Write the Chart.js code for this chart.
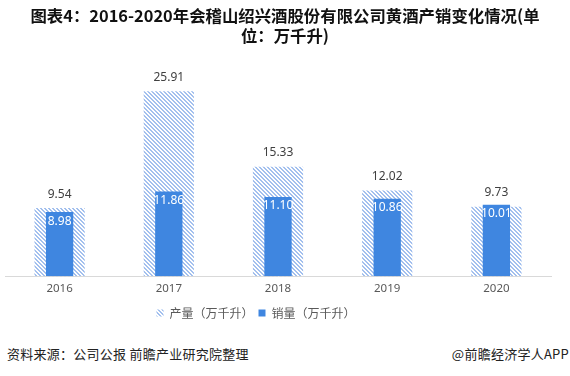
<!DOCTYPE html>
<html>
<head>
<meta charset="utf-8">
<script src="https://cdn.jsdelivr.net/npm/chart.js@4.4.0/dist/chart.umd.min.js"></script>
<style>
  body { margin: 0; background: #fff; font-family: "Noto Sans CJK SC", "Noto Sans", sans-serif; }
  #wrap { position: relative; width: 570px; height: 376px; overflow: hidden; }
  #title { position: absolute; left: 0; top: 6px; width: 570px; text-align: center;
           font-weight: bold; font-size: 16.4px; line-height: 19.5px; color: #111; }
  #chartBox { position: absolute; left: 0; top: 0; width: 570px; height: 329px; }
  #source { position: absolute; left: 7px; top: 344px; font-size: 13px; letter-spacing: 0.25px; color: #222; }
  #brand { position: absolute; right: 1px; top: 344px; font-size: 13px; letter-spacing: 0.25px; color: #222; }
</style>
</head>
<body>
<div id="wrap">
  <div id="chartBox"><canvas id="chart-bars" width="570" height="329"></canvas></div>
  <div id="title">图表4：2016-2020年会稽山绍兴酒股份有限公司黄酒产销变化情况(单<br>位：万千升)</div>
  <div id="source">资料来源：公司公报 前瞻产业研究院整理</div>
  <div id="brand">@前瞻经济学人APP</div>
</div>
<script>
// datos
const years = ["2016", "2017", "2018", "2019", "2020"];
const produccion = [9.54, 25.91, 15.33, 12.02, 9.73];
const ventas = [8.98, 11.86, 11.10, 10.86, 10.01];

// patrón de rayas diagonales para el producto
function makeStripes() {
  const c = document.createElement("canvas");
  c.width = 4; c.height = 4;
  const g = c.getContext("2d");
  g.fillStyle = "#ffffff";
  g.fillRect(0, 0, 4, 4);
  g.fillStyle = "#a3c0ee";
  for (let y = 0; y < 4; y++) {
    for (let x = 0; x < 4; x++) {
      const d = ((x - y) % 4 + 4) % 4;
      if (d === 0 || d === 1) g.fillRect(x, y, 1, 1);
    }
  }
  return document.getElementById("chart-bars").getContext("2d").createPattern(c, "repeat");
}

const stripes = makeStripes();

// etiquetas de valores
const valueLabels = {
  id: "valueLabels",
  afterDatasetsDraw(chart) {
    const ctx = chart.ctx;
    ctx.save();
    ctx.font = "12px 'Noto Sans', 'DejaVu Sans', sans-serif";
    ctx.textAlign = "center";
    chart.getDatasetMeta(0).data.forEach((bar, i) => {
      ctx.fillStyle = "#404040";
      ctx.textBaseline = "bottom";
      ctx.fillText(produccion[i].toFixed(2), bar.x, bar.y - 8);
    });
    chart.getDatasetMeta(1).data.forEach((bar, i) => {
      ctx.fillStyle = "#ffffff";
      ctx.textBaseline = "top";
      ctx.fillText(ventas[i].toFixed(2), bar.x, bar.y + 3);
    });
    ctx.restore();
  }
};

// leyenda un poco a la izquierda, como en el original
const legendShift = {
  id: "legendShift",
  afterLayout(chart) {
    if (chart.legend) {
      chart.legend.left -= 22;
      chart.legend.right -= 22;
    }
  }
};

const ctx = document.getElementById("chart-bars").getContext("2d");
let myChart = new Chart(ctx, {
  type: "bar",
  data: {
    labels: years,
    datasets: [
      {
        label: "产量（万千升）",
        data: produccion,
        backgroundColor: stripes,
        borderWidth: 0,
        grouped: false,
        order: 2,
        categoryPercentage: 1,
        barPercentage: 0.46,
      },
      {
        label: "销量（万千升）",
        data: ventas,
        backgroundColor: "#3f86e0",
        borderWidth: 0,
        grouped: false,
        order: 1,
        categoryPercentage: 1,
        barPercentage: 0.25,
      }
    ],
  },
  options: {
    responsive: false,
    animation: false,
    layout: { padding: { left: 5, right: 19, top: 62, bottom: 0 } },
    scales: {
      x: {
        grid: { display: false, drawTicks: false },
        border: { color: "#d9d9d9", width: 1 },
        ticks: { color: "#595959", font: { size: 11.5, family: "'Noto Sans', sans-serif" }, padding: 6 },
      },
      y: {
        display: false,
        min: 0,
        max: 30,
      },
    },
    plugins: {
      legend: {
        position: "bottom",
        labels: {
          boxWidth: 7,
          boxHeight: 7,
          padding: 5,
          color: "#595959",
          font: { size: 12, family: "'Noto Sans CJK SC', sans-serif" },
          sort: (a, b) => a.datasetIndex - b.datasetIndex,
        },
      },
      tooltip: { enabled: false },
    },
  },
  plugins: [valueLabels, legendShift],
});
</script>
</body>
</html>
